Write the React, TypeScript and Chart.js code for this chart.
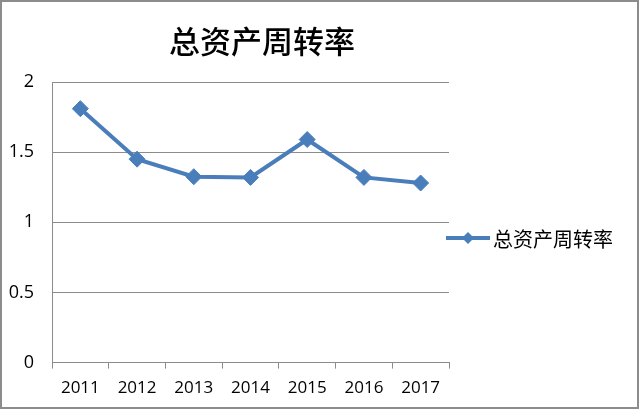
import React, { useEffect, useRef } from "react";
import { Chart, registerables } from "chart.js";

Chart.register(...registerables);

const categories = ["2011", "2012", "2013", "2014", "2015", "2016", "2017"];
const seriesName = "总资产周转率";
const seriesValues = [1.81, 1.45, 1.325, 1.32, 1.59, 1.32, 1.28];
const yTicks = [0, 0.5, 1, 1.5, 2];
const titleText = "总资产周转率";

const LINE_COLOR = "#4A7EBB";
const GRID_COLOR = "#8c8c8c";

export default function App() {
  const ref = useRef<HTMLCanvasElement | null>(null);

  useEffect(() => {
    document.body.style.margin = "0";
    const canvas = ref.current;
    if (!canvas) return;

    const decorPlugin = {
      id: "decor",
      afterDraw(chart: any) {
        const ctx = chart.ctx;
        const ds = chart.data.datasets[0];
        ctx.save();
        // title
        ctx.fillStyle = "#000";
        ctx.font = '500 31px "Noto Sans CJK SC"';
        ctx.textAlign = "center";
        ctx.textBaseline = "middle";
        ctx.fillText(titleText, 260, 39);
        // legend
        const y = 236;
        ctx.strokeStyle = LINE_COLOR;
        ctx.lineWidth = 4;
        ctx.beginPath();
        ctx.moveTo(444, y);
        ctx.lineTo(488, y);
        ctx.stroke();
        ctx.fillStyle = LINE_COLOR;
        ctx.beginPath();
        const cx = 466, r = 6;
        ctx.moveTo(cx, y - r);
        ctx.lineTo(cx + r, y);
        ctx.lineTo(cx, y + r);
        ctx.lineTo(cx - r, y);
        ctx.closePath();
        ctx.fill();
        ctx.fillStyle = "#000";
        ctx.font = '20px "Noto Sans CJK SC"';
        ctx.textBaseline = "middle";
        ctx.textAlign = "left";
        ctx.fillText(ds.label, 491, y + 1);
        ctx.restore();
      },
    };

    const chart = new Chart(canvas, {
      type: "line",
      data: {
        labels: categories,
        datasets: [
          {
            label: seriesName,
            data: seriesValues,
            borderColor: LINE_COLOR,
            backgroundColor: LINE_COLOR,
            borderWidth: 4,
            pointStyle: "rectRot",
            pointRadius: 8,
            pointHoverRadius: 8,
            pointBackgroundColor: LINE_COLOR,
            pointBorderColor: LINE_COLOR,
            pointBorderWidth: 1,
            tension: 0,
          },
        ],
      },
      options: {
        responsive: false,
        animation: false,
        layout: { padding: { left: 0, right: 188, top: 80, bottom: 0 } },
        plugins: {
          legend: { display: false },
          tooltip: { enabled: false },
          title: { display: false },
        },
        scales: {
          x: {
            type: "category",
            offset: true,
            grid: {
              offset: true,
              drawOnChartArea: false,
              drawTicks: true,
              tickLength: 6,
              color: GRID_COLOR,
            },
            border: { display: true, color: GRID_COLOR, width: 1 },
            ticks: {
              color: "#000",
              font: { family: '"Open Sans"', size: 17 },
              padding: 9,
              maxRotation: 0,
            },
          },
          y: {
            min: 0,
            max: 2,
            afterBuildTicks(scale: any) {
              scale.ticks = yTicks.map((v) => ({ value: v }));
            },
            afterFit(scale: any) {
              scale.width = 50;
            },
            grid: { color: GRID_COLOR, drawTicks: false },
            border: { display: true, color: GRID_COLOR, width: 1 },
            ticks: {
              color: "#000",
              font: { family: '"Open Sans"', size: 18 },
              padding: 18,
              callback: (v: any) => String(Number(v)),
            },
          },
        },
      },
      plugins: [decorPlugin],
    } as any);

    return () => chart.destroy();
  }, []);

  return (
    <div
      style={{
        width: 639,
        height: 409,
        boxSizing: "border-box",
        border: "2px solid #8c8c8c",
        background: "#fff",
      }}
    >
      <canvas ref={ref} width={635} height={405} style={{ display: "block" }} />
    </div>
  );
}
